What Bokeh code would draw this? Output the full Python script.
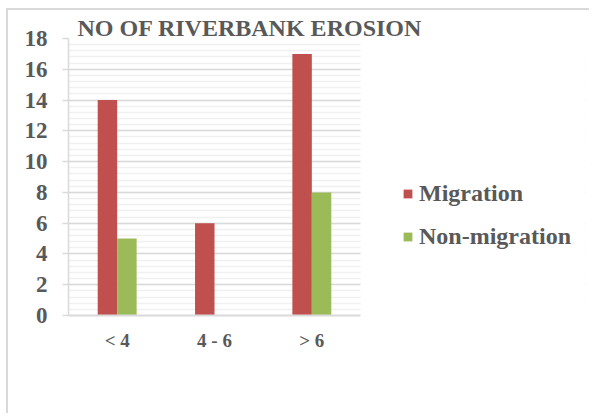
import numpy as np
from bokeh.plotting import figure
from bokeh.models import (ColumnDataSource, Range1d, SingleIntervalTicker, FixedTicker,
                          Legend, LegendItem, BoxAnnotation)
from bokeh.embed import file_html
from bokeh.resources import INLINE

# ---- data ----
categories = ["< 4", "4 - 6", "> 6"]
migration = [14, 6, 17]
non_migration = [5, 0, 8]
series_names = ["Migration", "Non-migration"]
series_colors = ["#C0504D", "#9BBB59"]
title_text = "NO OF RIVERBANK EROSION"

TEXT = "#595959"
GRID = "#D9D9D9"
FONT = "'Liberation Serif', 'Times New Roman', serif"

n = len(categories)
centers = np.arange(n) + 0.5
src = ColumnDataSource(dict(xm=centers - 0.1, xn=centers + 0.1,
                            mig=migration, non=non_migration))

# plot area spans n category slots; extra room on the right holds the legend
x_end = n * 517 / 292

p = figure(x_range=Range1d(0, x_end), y_range=Range1d(0, 18),
           width=583, height=405, output_backend="svg", toolbar_location=None,
           min_border_left=60, min_border_right=6, min_border_top=28,
           min_border_bottom=100)
p.outline_line_color = None
p.background_fill_color = "white"
p.border_fill_color = "white"
p.styles = {"border-top": "2px solid #D9D9D9", "border-left": "2px solid #D9D9D9",
            "margin-left": "6px", "margin-top": "8px"}

# grid
p.xgrid.visible = False
p.ygrid.grid_line_color = GRID
p.ygrid.grid_line_width = 1.5
p.ygrid.minor_grid_line_color = "#F0F0F0"
p.ygrid.minor_grid_line_width = 1.5

# white mask so grid lines stop at the end of the category area
p.add_layout(BoxAnnotation(left=n, fill_color="white", fill_alpha=1.0,
                           line_color=None, level="underlay"))

r1 = p.vbar(x="xm", top="mig", width=0.2, source=src,
            fill_color=series_colors[0], line_color=None)
r2 = p.vbar(x="xn", top="non", width=0.2, source=src,
            fill_color=series_colors[1], line_color=None)

# title
p.title.text = title_text
p.title.align = "left"
p.title.offset = 9
p.title.standoff = -5
p.title.text_font = FONT
p.title.text_font_style = "bold"
p.title.text_font_size = "24px"
p.title.text_color = TEXT

# y axis
yax = p.yaxis[0]
yax.ticker = SingleIntervalTicker(interval=2, num_minor_ticks=5)
yax.axis_line_color = GRID
yax.axis_line_width = 1.5
yax.major_tick_line_color = GRID
yax.major_tick_line_width = 1.5
yax.major_tick_out = 6
yax.major_tick_in = 0
yax.minor_tick_line_color = None
yax.major_label_text_font = FONT
yax.major_label_text_font_style = "bold"
yax.major_label_text_font_size = "23px"
yax.major_label_text_color = TEXT
yax.major_label_standoff = 15

# x axis
xax = p.xaxis[0]
xax.bounds = (0, n)
xax.ticker = FixedTicker(ticks=list(centers))
xax.major_label_overrides = {float(c): lab for c, lab in zip(centers, categories)}
xax.axis_line_color = GRID
xax.axis_line_width = 2
xax.major_tick_line_color = None
xax.minor_tick_line_color = None
xax.major_tick_out = 0
xax.major_tick_in = 0
xax.major_label_text_font = FONT
xax.major_label_text_font_style = "bold"
xax.major_label_text_font_size = "19px"
xax.major_label_text_color = TEXT
xax.major_label_standoff = 14

legend = Legend(items=[LegendItem(label=series_names[0], renderers=[r1]),
                       LegendItem(label=series_names[1], renderers=[r2])],
                location=(334, 64), orientation="vertical",
                border_line_color=None, background_fill_alpha=0,
                padding=0, margin=0, spacing=13, label_height=30,
                glyph_height=11, glyph_width=11, label_standoff=6,
                label_text_font=FONT, label_text_font_style="bold",
                label_text_font_size="24px", label_text_color=TEXT)
p.add_layout(legend)

open("out.html", "w").write(file_html(p, INLINE))
